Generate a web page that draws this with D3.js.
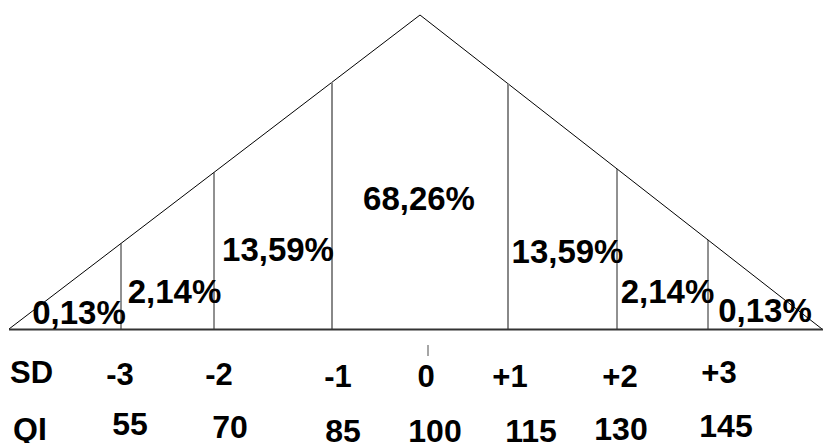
<!DOCTYPE html>
<html>
<head>
<meta charset="utf-8">
<script src="https://cdn.jsdelivr.net/npm/d3@7"></script>
<style>
  html, body { margin: 0; padding: 0; background: #fff; }
  svg { display: block; }
  text { font-family: "Liberation Sans", Arial, sans-serif; font-weight: bold; fill: #000; }
</style>
</head>
<body>
<div id="chart"></div>
<script>
// Data
const sdTicks = [-3, -2, -1, 0, 1, 2, 3];
const qiValues = [55, 70, 85, 100, 115, 130, 145];
const bandEdges = [-4.2, -3, -2, -1, 1, 2, 3, 4.2];
const pctValues = [0.13, 2.14, 13.59, 68.26, 13.59, 2.14, 0.13];
// triangle outline (sd, relative height)
const shapeSd = [-4.2, 0, 4.2];
const shapeH = [0, 1, 0];

const width = 823;
const height = 443;

const svg = d3.select("#chart")
    .append("svg")
    .attr("width", width)
    .attr("height", height);

// The drawing is hand spaced, so the sd axis is piecewise linear
const x = d3.scaleLinear()
    .domain([-4.2, -3, -2, -1, 0, 1, 2, 3, 4.2])
    .range([9, 121, 214, 332, 420, 508, 617, 708, 822]);

const y = d3.scaleLinear()
    .domain([0, 1])
    .range([329, 15]);

// height of the outline at a pixel x (straight edges in pixel space)
const edgeY = d3.scaleLinear()
    .domain(shapeSd.map(x))
    .range(shapeH.map(y));

const comma = d3.formatLocale({ decimal: ",", thousands: ".", grouping: [3], currency: ["", ""] });
const pctFmt = v => comma.format(".2f")(v) + "%";
const sdFmt = v => v > 0 ? "+" + v : String(v).replace("\u2212", "-");

// Outline
const line = d3.line()
    .x(d => x(d[0]))
    .y(d => y(d[1]));

svg.append("path")
    .attr("d", line(d3.zip(shapeSd, shapeH)))
    .attr("fill", "none")
    .attr("stroke", "#000")
    .attr("stroke-width", 1);

// Band dividers (inner edges only)
const dividers = bandEdges.slice(1, -1);
svg.selectAll("line.div")
    .data(dividers)
    .join("line")
    .attr("class", "div")
    .attr("x1", d => x(d))
    .attr("x2", d => x(d))
    .attr("y1", y(0))
    .attr("y2", d => edgeY(x(d)))
    .attr("stroke", d => Math.abs(d) === 1 ? "#888" : "#222")
    .attr("stroke-width", d => Math.abs(d) === 1 ? 2 : 1);

// Baseline
svg.append("line")
    .attr("x1", x(-4.2))
    .attr("x2", width)
    .attr("y1", y(0) + 0.5)
    .attr("y2", y(0) + 0.5)
    .attr("stroke", "#333")
    .attr("stroke-width", 2);

// Percent labels
const pctDx = [14, 7, 5, -1, 5, 5, 0];
const pctLift = [5, 26, 68, 119, 66, 26, 7];
svg.selectAll("text.pct")
    .data(pctValues)
    .join("text")
    .attr("class", "pct")
    .attr("text-anchor", "middle")
    .attr("x", (d, i) => (x(bandEdges[i]) + x(bandEdges[i + 1])) / 2 + pctDx[i])
    .attr("y", (d, i) => y(0) - pctLift[i])
    .style("font-size", "33px")
    .text(d => pctFmt(d));

// Small tick at the mean
svg.append("line")
    .attr("x1", x(0) + 8)
    .attr("x2", x(0) + 8)
    .attr("y1", 345)
    .attr("y2", 356)
    .attr("stroke", "#888")
    .attr("stroke-width", 1.5);

// SD row
const sdDx = [-1, 5, 6, 6, 2, 3, 11];
const sdBase = [385, 385, 387, 387, 387, 387, 383];
svg.append("text")
    .attr("x", 10)
    .attr("y", 383)
    .style("font-size", "31px")
    .text("SD");

svg.selectAll("text.sd")
    .data(sdTicks)
    .join("text")
    .attr("class", "sd")
    .attr("text-anchor", "middle")
    .attr("x", (d, i) => x(d) + sdDx[i])
    .attr("y", (d, i) => sdBase[i])
    .style("font-size", "31px")
    .text(d => sdFmt(d));

// QI row
const qiDx = [9, 16, 11, 15, 23, 4, 18];
const qiBase = [435, 438, 442, 442, 442, 440, 437];
svg.append("text")
    .attr("x", 13)
    .attr("y", 440)
    .style("font-size", "32px")
    .text("QI");

svg.selectAll("text.qi")
    .data(qiValues)
    .join("text")
    .attr("class", "qi")
    .attr("text-anchor", "middle")
    .attr("x", (d, i) => x(sdTicks[i]) + qiDx[i])
    .attr("y", (d, i) => qiBase[i])
    .style("font-size", "32px")
    .text(d => d);
</script>
</body>
</html>
